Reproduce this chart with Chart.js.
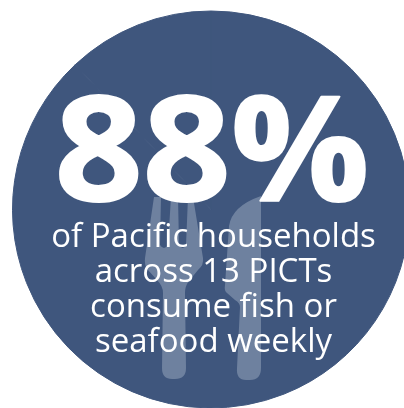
<!DOCTYPE html>
<html>
<head>
<meta charset="utf-8">
<style>
html, body { margin: 0; padding: 0; background: #fff; overflow: hidden; }
#wrap { position: relative; width: 404px; height: 408px; overflow: hidden; }
#graph { position: absolute; left: 0; top: 0; }
</style>
<script src="https://cdn.jsdelivr.net/npm/chart.js@4"></script>
</head>
<body>
<div id="wrap"><canvas id="graph" width="422" height="419"></canvas></div>
<script>
const categories = ['Consume fish or seafood weekly', 'Other households'];
const shares = [88, 12];
const headline = shares[0] + '%';
const captionLines = ['of Pacific households', 'across 13 PICTs', 'consume fish or', 'seafood weekly'];

const discColor = '#3f567d';
const cutleryColor = '#6e819f';

// fork and knife sit on the disc, behind the caption
const cutlery = {
    id: 'cutlery',
    afterDatasetsDraw(chart) {
        const c = chart.ctx;
        c.save();
        c.fillStyle = cutleryColor;
        c.beginPath();
        c.moveTo(154, 197);
        c.lineTo(161, 197);
        c.lineTo(160, 245);
        c.quadraticCurveTo(164, 251, 168, 245);
        c.lineTo(171, 197);
        c.lineTo(178, 197);
        c.lineTo(179, 245);
        c.quadraticCurveTo(183, 251, 186, 245);
        c.lineTo(188, 197);
        c.lineTo(193, 197);
        c.lineTo(203, 258);
        c.quadraticCurveTo(204, 265, 198, 270);
        c.lineTo(189, 281);
        c.quadraticCurveTo(185, 286, 185, 293);
        c.lineTo(186, 368);
        c.quadraticCurveTo(186, 379, 175, 379);
        c.lineTo(172, 379);
        c.quadraticCurveTo(162, 379, 162, 368);
        c.lineTo(163, 293);
        c.quadraticCurveTo(163, 286, 157, 280);
        c.lineTo(148, 270);
        c.quadraticCurveTo(144, 265, 145, 258);
        c.closePath();
        c.fill();

        c.beginPath();
        c.moveTo(261, 196);
        c.lineTo(261, 368);
        c.quadraticCurveTo(261, 380, 250, 380);
        c.lineTo(246, 380);
        c.quadraticCurveTo(236, 380, 237, 368);
        c.lineTo(240, 307);
        c.quadraticCurveTo(240, 303, 235, 300);
        c.lineTo(227, 293);
        c.quadraticCurveTo(224, 291, 225, 285);
        c.lineTo(229, 226);
        c.quadraticCurveTo(232, 206, 261, 196);
        c.closePath();
        c.fill();
        c.restore();
    }
};

const bigText = {
    id: 'bigText',
    afterDraw(chart) {
        const c = chart.ctx;
        c.save();
        c.fillStyle = '#fff';
        c.strokeStyle = '#fff';
        c.textBaseline = 'alphabetic';
        c.textAlign = 'center';
        // headline is stretched a touch wider than the font's own proportions
        c.save();
        c.translate(212, 200.5);
        c.scale(1.04, 0.98);
        c.font = 'bold 148px "Open Sans"';
        c.lineWidth = 2;
        c.lineJoin = 'round';
        c.strokeText(headline, 0, 0);
        c.fillText(headline, 0, 0);
        c.restore();
        c.font = '33px "Open Sans"';
        captionLines.forEach((line, i) => {
            c.fillText(line, 213.5, 247 + i * 35);
        });
        c.restore();
    }
};

const ctx = document.getElementById('graph');
const chart = new Chart(ctx, {
    type: 'pie',
    data: {
        labels: categories,
        datasets: [{
            data: shares,
            backgroundColor: discColor,
            borderColor: discColor,
            borderWidth: 1
        }]
    },
    options: {
        responsive: false,
        animation: false,
        layout: { padding: { left: 12, right: 12, top: 10.5, bottom: 10.5 } },
        plugins: {
            legend: { display: false },
            tooltip: { enabled: false },
            title: { display: false }
        }
    },
    plugins: [cutlery, bigText]
});
</script>
</body>
</html>
